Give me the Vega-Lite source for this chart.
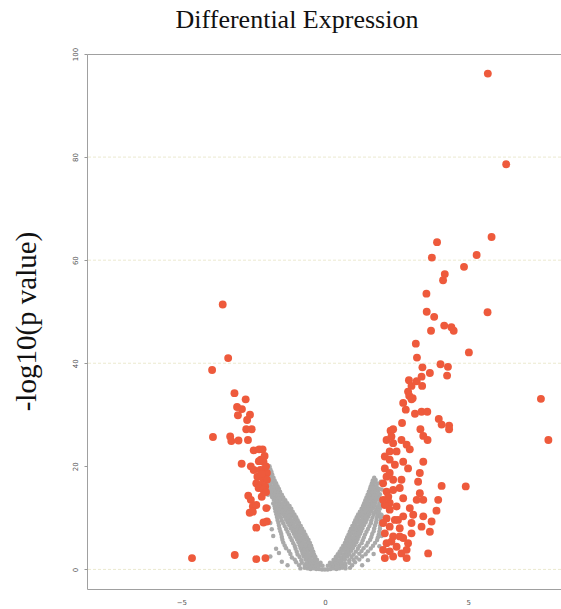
{
  "$schema": "https://vega.github.io/schema/vega-lite/v6.json",
  "width": 474,
  "height": 535,
  "autosize": {"type": "none"},
  "padding": {"left": 87, "top": 54, "right": 0, "bottom": 20},
  "background": "white",
  "config": {"view": {"stroke": "#a0a0a0", "strokeWidth": 1}},
  "title": {"text": "Differential Expression", "font": "Liberation Serif", "fontSize": 26, "fontWeight": "normal", "color": "#111111", "anchor": "middle", "baseline": "bottom", "offset": 18, "dx": -27, "dy": 30},
  "datasets": {
    "grid": [{"y": 0}, {"y": 40}, {"y": 60}, {"y": 80}],
    "ns": [
      {"x":-0.85,"y":0.2},{"x":-0.7,"y":0.3},{"x":-0.6,"y":0.2},{"x":-0.5,"y":0.1},{"x":-0.4,"y":0.2},{"x":-0.3,"y":0.1},{"x":-0.2,"y":0.1},{"x":-0.1,"y":0.0},{"x":0,"y":0.0},{"x":0.1,"y":0.0},{"x":0.2,"y":0.1},{"x":0.3,"y":0.2},{"x":0.4,"y":0.1},{"x":0.5,"y":0.2},{"x":0.6,"y":0.3},{"x":0.72,"y":0.2},{"x":0.88,"y":0.3},
      {"x":-0.08,"y":0.7},{"x":-0.18,"y":0.8},{"x":-0.28,"y":0.7},{"x":-0.38,"y":0.8},{"x":-0.48,"y":0.7},{"x":-0.58,"y":0.8},{"x":-0.7,"y":0.7},{"x":-0.9,"y":0.8},{"x":0.1,"y":0.7},{"x":0.2,"y":0.8},{"x":0.3,"y":0.7},{"x":0.4,"y":0.8},{"x":0.5,"y":0.7},{"x":0.6,"y":0.8},{"x":0.72,"y":0.7},{"x":0.95,"y":0.8},
      {"x":-0.15,"y":1.3},{"x":-0.25,"y":1.2},{"x":-0.35,"y":1.3},{"x":-0.45,"y":1.4},{"x":-0.55,"y":1.3},{"x":-0.65,"y":1.2},{"x":-0.8,"y":1.3},{"x":-1.0,"y":1.4},{"x":0.18,"y":1.3},{"x":0.28,"y":1.2},{"x":0.38,"y":1.3},{"x":0.48,"y":1.4},{"x":0.58,"y":1.3},{"x":0.7,"y":1.2},{"x":0.85,"y":1.3},{"x":1.05,"y":1.4},
      {"x":-0.27,"y":1.85},{"x":-0.37,"y":1.9},{"x":-0.47,"y":1.8},{"x":-0.57,"y":1.85},{"x":-0.67,"y":1.9},{"x":-0.82,"y":1.8},{"x":-1.05,"y":1.9},{"x":0.3,"y":1.85},{"x":0.4,"y":1.9},{"x":0.5,"y":1.8},{"x":0.6,"y":1.85},{"x":0.7,"y":1.9},{"x":0.85,"y":1.8},{"x":1.0,"y":1.85},{"x":1.2,"y":1.9},
      {"x":-0.33,"y":2.4},{"x":-0.43,"y":2.5},{"x":-0.53,"y":2.3},{"x":-0.63,"y":2.4},{"x":-0.73,"y":2.5},{"x":-0.88,"y":2.4},{"x":-1.15,"y":2.3},{"x":0.38,"y":2.4},{"x":0.48,"y":2.5},{"x":0.58,"y":2.3},{"x":0.68,"y":2.4},{"x":0.78,"y":2.5},{"x":0.93,"y":2.4},{"x":1.1,"y":2.3},{"x":1.3,"y":2.5},
      {"x":-0.38,"y":2.95},{"x":-0.48,"y":3.0},{"x":-0.58,"y":2.9},{"x":-0.68,"y":2.95},{"x":-0.78,"y":3.05},{"x":-0.95,"y":2.9},{"x":-1.2,"y":3.0},{"x":0.45,"y":2.95},{"x":0.55,"y":3.05},{"x":0.65,"y":2.9},{"x":0.75,"y":2.95},{"x":0.85,"y":3.0},{"x":1.0,"y":2.9},{"x":1.2,"y":3.05},{"x":1.42,"y":2.95},
      {"x":-0.41,"y":3.5},{"x":-0.51,"y":3.6},{"x":-0.61,"y":3.45},{"x":-0.71,"y":3.5},{"x":-0.81,"y":3.6},{"x":-0.98,"y":3.45},{"x":-1.25,"y":3.55},{"x":0.52,"y":3.5},{"x":0.62,"y":3.6},{"x":0.72,"y":3.45},{"x":0.82,"y":3.5},{"x":0.92,"y":3.6},{"x":1.08,"y":3.45},{"x":1.28,"y":3.55},{"x":1.5,"y":3.5},
      {"x":-0.45,"y":4.05},{"x":-0.55,"y":4.15},{"x":-0.65,"y":4.0},{"x":-0.75,"y":4.05},{"x":-0.85,"y":4.15},{"x":-1.02,"y":4.0},{"x":-1.35,"y":4.1},{"x":0.58,"y":4.05},{"x":0.68,"y":4.15},{"x":0.78,"y":4.0},{"x":0.88,"y":4.05},{"x":0.98,"y":4.15},{"x":1.15,"y":4.0},{"x":1.35,"y":4.1},{"x":1.6,"y":4.05},
      {"x":-0.48,"y":4.6},{"x":-0.58,"y":4.7},{"x":-0.68,"y":4.55},{"x":-0.78,"y":4.6},{"x":-0.88,"y":4.7},{"x":-1.05,"y":4.55},{"x":-1.4,"y":4.65},{"x":0.64,"y":4.6},{"x":0.74,"y":4.7},{"x":0.84,"y":4.55},{"x":0.94,"y":4.6},{"x":1.04,"y":4.7},{"x":1.2,"y":4.55},{"x":1.45,"y":4.65},{"x":1.68,"y":4.6},
      {"x":-0.52,"y":5.15},{"x":-0.62,"y":5.25},{"x":-0.72,"y":5.1},{"x":-0.82,"y":5.15},{"x":-0.92,"y":5.25},{"x":-1.1,"y":5.1},{"x":-1.45,"y":5.2},{"x":0.7,"y":5.15},{"x":0.8,"y":5.25},{"x":0.9,"y":5.1},{"x":1.0,"y":5.15},{"x":1.1,"y":5.25},{"x":1.28,"y":5.1},{"x":1.5,"y":5.2},{"x":1.75,"y":5.15},
      {"x":-0.57,"y":5.7},{"x":-0.67,"y":5.8},{"x":-0.77,"y":5.65},{"x":-0.87,"y":5.7},{"x":-0.97,"y":5.8},{"x":-1.15,"y":5.65},{"x":-1.48,"y":5.75},{"x":0.74,"y":5.7},{"x":0.84,"y":5.8},{"x":0.94,"y":5.65},{"x":1.04,"y":5.7},{"x":1.14,"y":5.8},{"x":1.32,"y":5.65},{"x":1.58,"y":5.75},{"x":1.82,"y":5.7},
      {"x":-0.63,"y":6.25},{"x":-0.73,"y":6.35},{"x":-0.83,"y":6.2},{"x":-0.93,"y":6.25},{"x":-1.03,"y":6.35},{"x":-1.2,"y":6.2},{"x":-1.5,"y":6.3},{"x":0.78,"y":6.25},{"x":0.88,"y":6.35},{"x":0.98,"y":6.2},{"x":1.08,"y":6.25},{"x":1.18,"y":6.35},{"x":1.36,"y":6.2},{"x":1.62,"y":6.3},{"x":1.85,"y":6.25},
      {"x":-0.68,"y":6.8},{"x":-0.78,"y":6.9},{"x":-0.88,"y":6.75},{"x":-0.98,"y":6.8},{"x":-1.08,"y":6.9},{"x":-1.25,"y":6.75},{"x":-1.52,"y":6.85},{"x":0.83,"y":6.8},{"x":0.93,"y":6.9},{"x":1.03,"y":6.75},{"x":1.13,"y":6.8},{"x":1.23,"y":6.9},{"x":1.4,"y":6.75},{"x":1.65,"y":6.85},{"x":1.88,"y":6.8},
      {"x":-0.73,"y":7.35},{"x":-0.83,"y":7.45},{"x":-0.93,"y":7.3},{"x":-1.03,"y":7.35},{"x":-1.13,"y":7.45},{"x":-1.3,"y":7.3},{"x":-1.55,"y":7.4},{"x":0.87,"y":7.35},{"x":0.97,"y":7.45},{"x":1.07,"y":7.3},{"x":1.17,"y":7.35},{"x":1.27,"y":7.45},{"x":1.45,"y":7.3},{"x":1.7,"y":7.4},{"x":1.9,"y":7.35},
      {"x":-0.79,"y":7.9},{"x":-0.89,"y":8.0},{"x":-0.99,"y":7.85},{"x":-1.09,"y":7.9},{"x":-1.19,"y":8.0},{"x":-1.35,"y":7.85},{"x":-1.58,"y":7.95},{"x":0.91,"y":7.9},{"x":1.01,"y":8.0},{"x":1.11,"y":7.85},{"x":1.21,"y":7.9},{"x":1.31,"y":8.0},{"x":1.5,"y":7.85},{"x":1.72,"y":7.95},{"x":1.92,"y":7.9},
      {"x":-0.84,"y":8.45},{"x":-0.94,"y":8.55},{"x":-1.04,"y":8.4},{"x":-1.14,"y":8.45},{"x":-1.24,"y":8.55},{"x":-1.4,"y":8.4},{"x":-1.6,"y":8.5},{"x":0.96,"y":8.45},{"x":1.06,"y":8.55},{"x":1.16,"y":8.4},{"x":1.26,"y":8.45},{"x":1.36,"y":8.55},{"x":1.55,"y":8.4},{"x":1.75,"y":8.5},{"x":1.93,"y":8.45},
      {"x":-0.9,"y":9.0},{"x":-1.0,"y":9.1},{"x":-1.1,"y":8.95},{"x":-1.2,"y":9.0},{"x":-1.3,"y":9.1},{"x":-1.45,"y":8.95},{"x":-1.62,"y":9.05},{"x":1.02,"y":9.0},{"x":1.12,"y":9.1},{"x":1.22,"y":8.95},{"x":1.32,"y":9.0},{"x":1.42,"y":9.1},{"x":1.6,"y":8.95},{"x":1.78,"y":9.05},{"x":1.94,"y":9.0},
      {"x":-0.95,"y":9.55},{"x":-1.05,"y":9.65},{"x":-1.15,"y":9.5},{"x":-1.25,"y":9.55},{"x":-1.35,"y":9.65},{"x":-1.5,"y":9.5},{"x":-1.65,"y":9.6},{"x":1.06,"y":9.55},{"x":1.16,"y":9.65},{"x":1.26,"y":9.5},{"x":1.36,"y":9.55},{"x":1.46,"y":9.65},{"x":1.62,"y":9.5},{"x":1.8,"y":9.6},{"x":1.95,"y":9.55},
      {"x":-1.0,"y":10.1},{"x":-1.1,"y":10.2},{"x":-1.2,"y":10.05},{"x":-1.3,"y":10.1},{"x":-1.4,"y":10.2},{"x":-1.53,"y":10.05},{"x":-1.67,"y":10.15},{"x":1.11,"y":10.1},{"x":1.21,"y":10.2},{"x":1.31,"y":10.05},{"x":1.41,"y":10.1},{"x":1.51,"y":10.2},{"x":1.66,"y":10.05},{"x":1.82,"y":10.15},{"x":1.95,"y":10.1},
      {"x":-1.06,"y":10.65},{"x":-1.16,"y":10.75},{"x":-1.26,"y":10.6},{"x":-1.36,"y":10.65},{"x":-1.46,"y":10.75},{"x":-1.57,"y":10.6},{"x":-1.69,"y":10.7},{"x":1.16,"y":10.65},{"x":1.26,"y":10.75},{"x":1.36,"y":10.6},{"x":1.46,"y":10.65},{"x":1.56,"y":10.75},{"x":1.7,"y":10.6},{"x":1.84,"y":10.7},{"x":1.95,"y":10.65},
      {"x":-1.12,"y":11.2},{"x":-1.22,"y":11.3},{"x":-1.32,"y":11.15},{"x":-1.42,"y":11.2},{"x":-1.52,"y":11.3},{"x":-1.62,"y":11.15},{"x":-1.72,"y":11.25},{"x":1.22,"y":11.2},{"x":1.32,"y":11.3},{"x":1.42,"y":11.15},{"x":1.52,"y":11.2},{"x":1.62,"y":11.3},{"x":1.75,"y":11.15},{"x":1.88,"y":11.25},
      {"x":-1.17,"y":11.75},{"x":-1.27,"y":11.85},{"x":-1.37,"y":11.7},{"x":-1.47,"y":11.75},{"x":-1.57,"y":11.85},{"x":-1.67,"y":11.7},{"x":-1.74,"y":11.8},{"x":1.28,"y":11.75},{"x":1.38,"y":11.85},{"x":1.48,"y":11.7},{"x":1.58,"y":11.75},{"x":1.68,"y":11.85},{"x":1.8,"y":11.7},{"x":1.92,"y":11.8},
      {"x":-1.23,"y":12.3},{"x":-1.33,"y":12.4},{"x":-1.43,"y":12.25},{"x":-1.53,"y":12.3},{"x":-1.63,"y":12.4},{"x":-1.75,"y":12.25},{"x":1.33,"y":12.3},{"x":1.43,"y":12.4},{"x":1.53,"y":12.25},{"x":1.63,"y":12.3},{"x":1.73,"y":12.4},{"x":1.85,"y":12.25},{"x":1.95,"y":12.35},
      {"x":-1.31,"y":12.85},{"x":-1.41,"y":12.95},{"x":-1.51,"y":12.8},{"x":-1.61,"y":12.85},{"x":-1.71,"y":12.95},{"x":-1.8,"y":12.8},{"x":1.37,"y":12.85},{"x":1.47,"y":12.95},{"x":1.57,"y":12.8},{"x":1.67,"y":12.85},{"x":1.77,"y":12.95},{"x":1.9,"y":12.8},
      {"x":-1.38,"y":13.4},{"x":-1.48,"y":13.5},{"x":-1.58,"y":13.35},{"x":-1.68,"y":13.4},{"x":-1.78,"y":13.5},{"x":1.41,"y":13.4},{"x":1.51,"y":13.5},{"x":1.61,"y":13.35},{"x":1.71,"y":13.4},{"x":1.81,"y":13.5},{"x":1.93,"y":13.35},
      {"x":-1.45,"y":13.95},{"x":-1.55,"y":14.05},{"x":-1.65,"y":13.9},{"x":-1.75,"y":13.95},{"x":-1.84,"y":14.05},{"x":1.45,"y":13.95},{"x":1.55,"y":14.05},{"x":1.65,"y":13.9},{"x":1.75,"y":13.95},{"x":1.88,"y":14.05},
      {"x":-1.5,"y":14.5},{"x":-1.6,"y":14.6},{"x":-1.7,"y":14.45},{"x":-1.8,"y":14.5},{"x":-1.87,"y":14.6},{"x":1.49,"y":14.5},{"x":1.59,"y":14.6},{"x":1.69,"y":14.45},{"x":1.8,"y":14.5},{"x":1.92,"y":14.6},
      {"x":-1.56,"y":15.05},{"x":-1.66,"y":15.15},{"x":-1.76,"y":15.0},{"x":-1.86,"y":15.1},{"x":1.53,"y":15.05},{"x":1.63,"y":15.15},{"x":1.73,"y":15.0},{"x":1.85,"y":15.1},
      {"x":-1.6,"y":15.6},{"x":-1.7,"y":15.7},{"x":-1.8,"y":15.55},{"x":-1.9,"y":15.65},{"x":1.57,"y":15.6},{"x":1.67,"y":15.7},{"x":1.77,"y":15.55},{"x":1.88,"y":15.65},
      {"x":-1.65,"y":16.15},{"x":-1.75,"y":16.25},{"x":-1.85,"y":16.1},{"x":-1.93,"y":16.2},{"x":1.6,"y":16.15},{"x":1.7,"y":16.25},{"x":1.8,"y":16.1},
      {"x":-1.7,"y":16.7},{"x":-1.8,"y":16.8},{"x":-1.9,"y":16.65},{"x":1.64,"y":16.7},{"x":1.74,"y":16.8},{"x":1.84,"y":16.65},
      {"x":-1.75,"y":17.25},{"x":-1.85,"y":17.35},{"x":-1.95,"y":17.2},{"x":1.67,"y":17.25},{"x":1.77,"y":17.35},
      {"x":-1.79,"y":17.8},{"x":-1.89,"y":17.9},{"x":-1.97,"y":17.75},{"x":1.72,"y":17.8},
      {"x":-1.83,"y":18.35},{"x":-1.93,"y":18.45},
      {"x":-1.86,"y":18.9},{"x":-1.95,"y":19.0},
      {"x":-1.9,"y":19.45},{"x":-1.97,"y":19.55},
      {"x":-1.93,"y":20.0},
      {"x":-1.9,"y":2.5},{"x":-1.7,"y":4},{"x":-1.8,"y":6.5},{"x":-1.9,"y":9},{"x":-1.95,"y":12},{"x":-1.5,"y":1.5},{"x":-1.3,"y":0.8},{"x":-1.98,"y":14.5},{"x":-1.6,"y":3.2},{"x":-1.85,"y":7.8},
      {"x":1.5,"y":1.8},{"x":1.7,"y":3},{"x":1.9,"y":4.5},{"x":1.98,"y":6.5},{"x":1.3,"y":0.8},{"x":1.98,"y":10.5},{"x":1.99,"y":13},{"x":1.98,"y":15.5},{"x":1.95,"y":17}
    ],
    "sig": [
      {"x":-3.56,"y":51.4},{"x":-3.37,"y":41.0},{"x":-3.93,"y":38.7},{"x":-3.15,"y":34.2},{"x":-2.76,"y":33.0},{"x":-3.06,"y":31.5},{"x":-2.89,"y":31.1},{"x":-3.03,"y":29.9},{"x":-2.61,"y":30.0},{"x":-2.71,"y":29.0},{"x":-2.74,"y":27.2},{"x":-2.55,"y":27.2},{"x":-3.90,"y":25.7},{"x":-3.30,"y":25.8},{"x":-3.26,"y":24.9},{"x":-3.01,"y":25.0},{"x":-2.68,"y":25.1},{"x":-2.48,"y":23.1},{"x":-2.29,"y":23.3},{"x":-2.17,"y":23.3},{"x":-2.23,"y":21.3},{"x":-2.14,"y":20.9},{"x":-2.90,"y":20.5},{"x":-2.58,"y":20.0},{"x":-2.48,"y":19.3},{"x":-2.25,"y":19.3},{"x":-2.14,"y":19.3},{"x":-2.02,"y":18.7},{"x":-2.35,"y":18.0},{"x":-2.16,"y":17.7},{"x":-2.02,"y":17.4},{"x":-2.39,"y":16.7},{"x":-2.23,"y":16.4},{"x":-2.08,"y":16.1},{"x":-2.31,"y":15.8},{"x":-2.14,"y":15.4},{"x":-2.20,"y":14.1},{"x":-2.67,"y":14.3},{"x":-2.58,"y":13.5},{"x":-2.51,"y":12.2},{"x":-2.39,"y":12.5},{"x":-2.04,"y":11.9},{"x":-2.62,"y":11.0},{"x":-2.51,"y":11.2},{"x":-2.14,"y":9.1},{"x":-2.02,"y":9.3},{"x":-2.39,"y":8.1},{"x":-4.63,"y":2.2},{"x":-3.14,"y":2.8},{"x":-2.39,"y":2.0},{"x":-2.07,"y":2.2},{"x":-2.05,"y":20.0},{"x":-2.1,"y":22.0},{"x":-2.3,"y":21.0},{"x":-2.2,"y":18.5},{"x":-2.05,"y":15.0},
      {"x":3.91,"y":63.5},{"x":3.73,"y":60.5},{"x":5.29,"y":61.0},{"x":4.85,"y":58.7},{"x":4.18,"y":57.3},{"x":4.12,"y":56.1},{"x":3.54,"y":53.5},{"x":3.55,"y":50.0},{"x":3.81,"y":49.0},{"x":3.70,"y":46.3},{"x":4.16,"y":47.3},{"x":4.41,"y":47.0},{"x":4.49,"y":46.3},{"x":3.17,"y":43.8},{"x":3.21,"y":41.1},{"x":5.02,"y":42.1},{"x":4.03,"y":39.8},{"x":4.29,"y":39.3},{"x":4.26,"y":37.6},{"x":3.66,"y":38.1},{"x":3.40,"y":39.2},{"x":3.37,"y":37.4},{"x":3.20,"y":36.5},{"x":2.93,"y":36.7},{"x":3.02,"y":35.6},{"x":3.39,"y":35.6},{"x":2.90,"y":34.5},{"x":2.94,"y":33.7},{"x":3.06,"y":33.2},
      {"x":3.02,"y":33.0},{"x":2.73,"y":32.3},{"x":2.82,"y":31.0},{"x":3.14,"y":30.2},{"x":3.37,"y":30.6},{"x":3.57,"y":30.6},{"x":3.97,"y":29.2},{"x":4.07,"y":28.1},{"x":4.33,"y":27.9},{"x":4.33,"y":27.2},{"x":2.69,"y":28.4},{"x":2.38,"y":27.2},{"x":2.29,"y":26.9},{"x":3.33,"y":27.2},{"x":3.43,"y":25.9},{"x":3.58,"y":25.1},{"x":2.67,"y":25.1},{"x":2.85,"y":24.2},{"x":2.96,"y":23.3},{"x":2.38,"y":24.5},{"x":2.26,"y":22.9},{"x":2.50,"y":22.9},{"x":3.43,"y":20.9},{"x":2.73,"y":20.9},{"x":2.90,"y":19.6},{"x":3.31,"y":18.7},{"x":2.09,"y":19.6},{"x":2.15,"y":18.0},{"x":2.38,"y":17.4},{"x":2.67,"y":17.4},{"x":3.25,"y":17.0},{"x":4.07,"y":16.2},{"x":4.91,"y":16.1},{"x":2.61,"y":15.8},{"x":2.15,"y":15.1},{"x":3.31,"y":14.8},{"x":3.20,"y":13.5},{"x":3.43,"y":13.5},{"x":2.73,"y":13.8},{"x":3.95,"y":13.5},{"x":2.26,"y":12.9},{"x":2.09,"y":12.5},{"x":2.50,"y":12.2},{"x":2.96,"y":11.9},{"x":3.89,"y":11.4},{"x":3.08,"y":10.6},{"x":3.43,"y":10.3},{"x":2.15,"y":9.9},{"x":2.44,"y":9.6},{"x":3.72,"y":9.3},{"x":3.02,"y":9.0},{"x":2.26,"y":8.3},{"x":3.37,"y":8.3},{"x":2.61,"y":8.0},{"x":3.66,"y":7.3},{"x":3.02,"y":7.0},{"x":2.09,"y":7.0},{"x":2.38,"y":6.4},{"x":2.73,"y":6.1},{"x":2.15,"y":5.1},{"x":2.90,"y":5.1},{"x":2.50,"y":4.4},{"x":2.26,"y":3.5},{"x":2.67,"y":3.1},{"x":3.60,"y":3.1},{"x":2.09,"y":2.2},{"x":2.38,"y":2.5},{"x":2.85,"y":2.2},{"x":2.03,"y":3.8},{"x":2.03,"y":16.7},{"x":2.03,"y":13.5},{"x":2.03,"y":9.0},{"x":2.09,"y":21.9},{"x":2.15,"y":25.1},{"x":2.32,"y":25.8},{"x":2.26,"y":21.3},{"x":2.44,"y":20.3},{"x":2.26,"y":18.7},{"x":2.38,"y":15.4},{"x":2.21,"y":14.1},{"x":2.55,"y":9.6},{"x":2.26,"y":11.6},{"x":2.61,"y":6.4},{"x":2.32,"y":5.4},{"x":2.85,"y":3.8},{"x":2.73,"y":10.3},
      {"x":5.68,"y":96.2},{"x":6.32,"y":78.6},{"x":5.81,"y":64.5},{"x":5.67,"y":49.9},{"x":7.53,"y":33.1},{"x":7.79,"y":25.1}
    ]
  },
  "layer": [
    {
      "data": {"name": "grid"},
      "mark": {"type": "rule", "color": "#ebe9cf", "strokeDash": [3, 2], "strokeWidth": 1},
      "encoding": {"y": {"field": "y", "type": "quantitative", "scale": {"domain": [-3.8, 100], "nice": false, "zero": false},
              "axis": {"title": "-log10(p value)", "titleFont": "Liberation Serif", "titleFontSize": 29, "titleFontWeight": "normal", "titleColor": "#111111",
                       "titleAngle": -90, "titleBaseline": "middle", "titleAlign": "center", "titleX": -61, "titleY": 267,
                       "values": [0, 20, 40, 60, 80, 100], "grid": false, "domain": false, "ticks": true, "tickSize": 3, "tickColor": "#999999",
                       "labelFontSize": 7, "labelColor": "#555555", "labelFont": "DejaVu Sans", "labelAngle": -90, "labelAlign": "center", "labelBaseline": "bottom", "labelPadding": 6}}}
    },
    {
      "data": {"name": "ns"},
      "mark": {"type": "circle", "size": 20, "color": "#aaaaaa", "opacity": 1},
      "encoding": {
        "x": {"field": "x", "type": "quantitative", "scale": {"domain": [-8.29, 8.23], "nice": false, "zero": false},
              "axis": {"title": null, "values": [-5, 0, 5], "grid": false, "domain": false, "ticks": false, "labelFontSize": 7, "labelColor": "#555555", "labelFont": "DejaVu Sans", "labelPadding": 9}},
        "y": {"field": "y", "type": "quantitative",
              "axis": {"title": "-log10(p value)", "titleFont": "Liberation Serif", "titleFontSize": 29, "titleFontWeight": "normal", "titleColor": "#111111",
                       "titleAngle": -90, "titleBaseline": "middle", "titleAlign": "center", "titleX": -61, "titleY": 267,
                       "values": [0, 20, 40, 60, 80, 100], "grid": false, "domain": false, "ticks": true, "tickSize": 3, "tickColor": "#999999",
                       "labelFontSize": 7, "labelColor": "#555555", "labelFont": "DejaVu Sans", "labelAngle": -90, "labelAlign": "center", "labelBaseline": "bottom", "labelPadding": 6}}
      }
    },
    {
      "data": {"name": "sig"},
      "mark": {"type": "circle", "size": 62, "color": "#ee5a3c", "opacity": 1},
      "encoding": {
        "x": {"field": "x", "type": "quantitative",
              "axis": {"title": null, "values": [-5, 0, 5], "grid": false, "domain": false, "ticks": false, "labelFontSize": 7, "labelColor": "#555555", "labelFont": "DejaVu Sans", "labelPadding": 9}},
        "y": {"field": "y", "type": "quantitative",
              "axis": {"title": "-log10(p value)", "titleFont": "Liberation Serif", "titleFontSize": 29, "titleFontWeight": "normal", "titleColor": "#111111",
                       "titleAngle": -90, "titleBaseline": "middle", "titleAlign": "center", "titleX": -61, "titleY": 267,
                       "values": [0, 20, 40, 60, 80, 100], "grid": false, "domain": false, "ticks": true, "tickSize": 3, "tickColor": "#999999",
                       "labelFontSize": 7, "labelColor": "#555555", "labelFont": "DejaVu Sans", "labelAngle": -90, "labelAlign": "center", "labelBaseline": "bottom", "labelPadding": 6}}
      }
    }
  ]
}
